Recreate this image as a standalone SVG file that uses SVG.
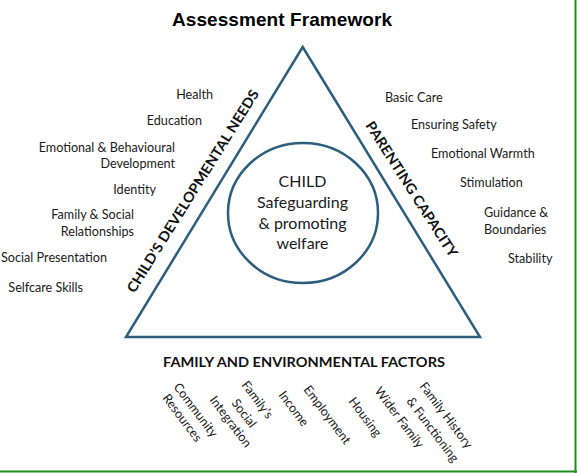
<svg xmlns="http://www.w3.org/2000/svg" width="577" height="473" viewBox="0 0 577 473">
<style>
.lbl{font-family:Lato,"Liberation Sans",sans-serif;font-size:12.6px;fill:#1a1a1a}
.bold{font-family:Lato,"Liberation Sans",sans-serif;font-weight:bold;font-size:14px;fill:#111}
.ctr{font-family:Lato,"Liberation Sans",sans-serif;font-size:16px;fill:#1a1a1a;text-anchor:middle}
.edge{fill:none;stroke:#2d5e7e;stroke-width:2.5;stroke-linejoin:miter}
</style>
<rect width="577" height="473" fill="#fff"/>
<line x1="575.5" y1="0" x2="575.5" y2="473" stroke="#1e8c1e" stroke-width="2"/>
<line x1="0" y1="471.5" x2="577" y2="471.5" stroke="#1e8c1e" stroke-width="2"/>
<text x="282" y="26" font-family="'Liberation Sans',Arial,sans-serif" font-weight="bold" font-size="19" text-anchor="middle" textLength="220" fill="#000">Assessment Framework</text>
<g id="connectors">
<polygon class="edge" points="302.7,47 480,337 126,337"/>
</g>
<g id="child">
<ellipse cx="303" cy="213" rx="75" ry="70" fill="none" stroke="#2d5e7e" stroke-width="2.5"/>
<text class="ctr" x="302.5" y="187">CHILD</text>
<text class="ctr" x="302.5" y="208">Safeguarding</text>
<text class="ctr" x="302.5" y="229">&amp; promoting</text>
<text class="ctr" x="302.5" y="248.5">welfare</text>
</g>
<g id="developmental-needs">
<text class="bold" transform="translate(197,193.7) rotate(-58)" text-anchor="middle" textLength="236" lengthAdjust="spacingAndGlyphs">CHILD’S DEVELOPMENTAL NEEDS</text>
<g text-anchor="end">
<text class="lbl" x="213" y="99">Health</text>
<text class="lbl" x="202" y="125">Education</text>
<text class="lbl" x="175" y="152">Emotional &amp; Behavioural</text>
<text class="lbl" x="175" y="168">Development</text>
<text class="lbl" x="156" y="194">Identity</text>
<text class="lbl" x="134" y="219">Family &amp; Social</text>
<text class="lbl" x="134" y="236">Relationships</text>
<text class="lbl" x="107" y="261.5" textLength="106" lengthAdjust="spacingAndGlyphs">Social Presentation</text>
<text class="lbl" x="83" y="291.5">Selfcare Skills</text>
</g>
</g>
<g id="parenting-capacity">
<text class="bold" transform="translate(407.5,191.9) rotate(57.4)" text-anchor="middle" textLength="158" lengthAdjust="spacingAndGlyphs">PARENTING CAPACITY</text>
<text class="lbl" x="385" y="101.5">Basic Care</text>
<text class="lbl" x="411" y="129">Ensuring Safety</text>
<text class="lbl" x="431" y="158">Emotional Warmth</text>
<text class="lbl" x="460" y="187">Stimulation</text>
<text class="lbl" x="484" y="217">Guidance &amp;</text>
<text class="lbl" x="484" y="234">Boundaries</text>
<text class="lbl" x="508" y="262.5">Stability</text>
</g>
<g id="family-environment">
<text class="bold" x="304" y="367.3" text-anchor="middle" font-size="15" textLength="282" lengthAdjust="spacingAndGlyphs">FAMILY AND ENVIRONMENTAL FACTORS</text>
<text class="lbl" transform="translate(173,387) rotate(53)">Community</text>
<text class="lbl" transform="translate(162,398) rotate(53)">Resources</text>
<text class="lbl" transform="translate(241,385) rotate(53)">Family’s</text>
<text class="lbl" transform="translate(231,403) rotate(53)">Social</text>
<text class="lbl" transform="translate(209,400) rotate(53)">Integration</text>
<text class="lbl" transform="translate(278,395) rotate(53)">Income</text>
<text class="lbl" transform="translate(303,389.6) rotate(53)">Employment</text>
<text class="lbl" transform="translate(348,401.3) rotate(53)">Housing</text>
<text class="lbl" transform="translate(374,391) rotate(53)">Wider Family</text>
<text class="lbl" transform="translate(419,386.3) rotate(53)">Family History</text>
<text class="lbl" transform="translate(406,401.3) rotate(53)">&amp; Functioning</text>
</g>
</svg>
